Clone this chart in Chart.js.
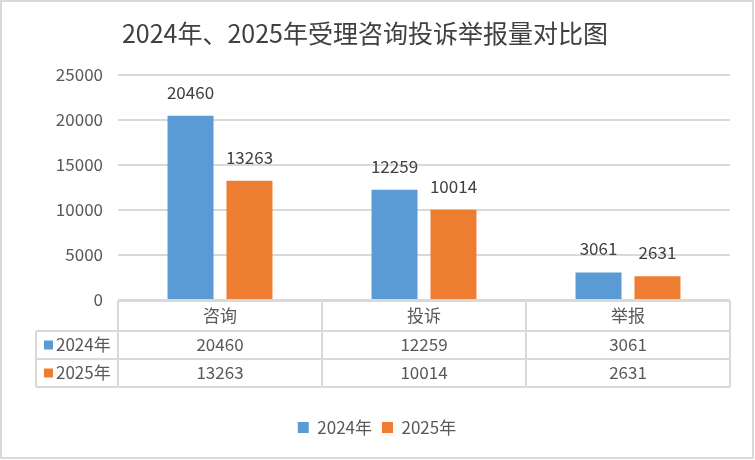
<!DOCTYPE html>
<html>
<head>
<meta charset="utf-8">
<script src="https://cdn.jsdelivr.net/npm/chart.js@4.4.1/dist/chart.umd.min.js"></script>
<style>
  html, body { margin: 0; padding: 0; background: #fff; }
  #wrap { width: 755px; height: 460px; }
</style>
</head>
<body>
<div id="wrap"><canvas id="chart" width="755" height="460"></canvas></div>
<script>
// data
const categories = ['咨询', '投诉', '举报'];
const seriesNames = ['2024年', '2025年'];
const values2024 = [20460, 12259, 3061];
const values2025 = [13263, 10014, 2631];
const yTicks = [0, 5000, 10000, 15000, 20000, 25000];

const colors = ['#5B9BD5', '#ED7D31'];
const FONT = "'Noto Sans CJK SC', 'Microsoft YaHei', sans-serif";
const TEXT = '#595959';
const LINE = '#d9d9d9';

// value labels above each bar
const barLabels = {
  id: 'barLabels',
  afterDatasetsDraw(chart) {
    const ctx = chart.ctx;
    ctx.save();
    ctx.font = '17px ' + FONT;
    ctx.fillStyle = '#404040';
    ctx.textAlign = 'center';
    ctx.textBaseline = 'alphabetic';
    chart.data.datasets.forEach((ds, i) => {
      chart.getDatasetMeta(i).data.forEach((bar, j) => {
        ctx.fillText(String(ds.data[j]), bar.x, bar.y - 17);
      });
    });
    ctx.restore();
  }
};

// legend sits a bit right of the plot centre in the original
const shiftLegend = {
  id: 'shiftLegend',
  afterLayout(chart) {
    chart.legend.left += 12;
    chart.legend.right += 12;
  }
};

// data table under the plot + outer frame
const dataTable = {
  id: 'dataTable',
  afterDraw(chart) {
    const ctx = chart.ctx;
    const x = chart.scales.x;
    const area = chart.chartArea;
    const step = x.getPixelForValue(1) - x.getPixelForValue(0);
    const top = area.bottom + 1;
    const r1 = top + 30, r2 = r1 + 28, bottom = r2 + 28;
    const labelLeft = 36;

    ctx.save();
    ctx.strokeStyle = LINE;
    ctx.lineWidth = 2;
    ctx.beginPath();
    ctx.moveTo(area.left, top); ctx.lineTo(area.right, top);
    [r1, r2, bottom].forEach(y => { ctx.moveTo(labelLeft, y); ctx.lineTo(area.right, y); });
    ctx.moveTo(labelLeft, r1); ctx.lineTo(labelLeft, bottom);
    for (let i = 0; i <= categories.length; i++) {
      const px = x.getPixelForValue(0) - step / 2 + i * step;
      ctx.moveTo(px, top); ctx.lineTo(px, bottom);
    }
    ctx.stroke();

    ctx.font = '17px ' + FONT;
    ctx.fillStyle = TEXT;
    ctx.textAlign = 'center';
    ctx.textBaseline = 'middle';
    categories.forEach((c, i) => ctx.fillText(c, x.getPixelForValue(i), (top + r1) / 2));

    const rows = [values2024, values2025];
    const rowMid = [(r1 + r2) / 2, (r2 + bottom) / 2];
    rows.forEach((vals, k) => {
      ctx.textAlign = 'center';
      ctx.fillStyle = TEXT;
      vals.forEach((v, i) => ctx.fillText(String(v), x.getPixelForValue(i), rowMid[k]));
      ctx.fillStyle = colors[k];
      ctx.fillRect(44, rowMid[k] - 4.5, 9, 9);
      ctx.fillStyle = TEXT;
      ctx.textAlign = 'left';
      ctx.fillText(seriesNames[k], 56, rowMid[k]);
    });

    ctx.strokeRect(1, 1, 752, 457);
    ctx.restore();
  }
};

new Chart(document.getElementById('chart'), {
  type: 'bar',
  data: {
    labels: categories,
    datasets: [
      { label: seriesNames[0], data: values2024, backgroundColor: colors[0] },
      { label: seriesNames[1], data: values2025, backgroundColor: colors[1] }
    ]
  },
  options: {
    responsive: false,
    devicePixelRatio: 1,
    animation: false,
    categoryPercentage: 0.578,
    barPercentage: 0.78,
    layout: { padding: { left: 0, right: 25, top: 0, bottom: 14 } },
    plugins: {
      title: {
        display: true,
        text: '2024年、2025年受理咨询投诉举报量对比图',
        color: '#404040',
        font: { family: FONT, size: 25, weight: 'normal' },
        padding: { top: 18, bottom: 27 }
      },
      legend: {
        position: 'bottom',
        labels: {
          boxWidth: 11,
          boxHeight: 11,
          padding: 10,
          color: TEXT,
          font: { family: FONT, size: 17 }
        }
      },
      tooltip: { enabled: false }
    },
    scales: {
      x: {
        grid: { display: false },
        border: { display: false },
        ticks: { display: false },
        afterFit: s => { s.height = 109; }
      },
      y: {
        min: yTicks[0],
        max: yTicks[yTicks.length - 1],
        border: { display: false },
        grid: { color: LINE, lineWidth: 2, drawTicks: false },
        ticks: {
          stepSize: yTicks[1] - yTicks[0],
          padding: 15,
          color: TEXT,
          font: { family: FONT, size: 17 },
          callback: v => String(v)
        },
        afterFit: s => { s.width = 118; }
      }
    }
  },
  plugins: [barLabels, shiftLegend, dataTable]
});
</script>
</body>
</html>
